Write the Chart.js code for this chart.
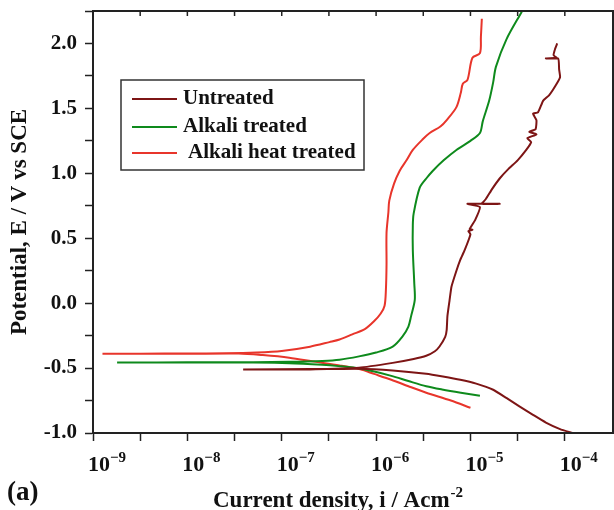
<!DOCTYPE html>
<html>
<head>
<meta charset="utf-8">
<script src="https://cdn.jsdelivr.net/npm/chart.js@4.4.0/dist/chart.umd.min.js"></script>
<style>
    html, body { margin: 0; padding: 0; background: #fff; }
</style>
</head>
<body>
<canvas id="myChart" width="614" height="510"></canvas>
<script>
// current density (A/cm2) and potential (V vs SCE)
// each path runs cathodic end -> corrosion potential -> anodic end
const untreatedI = [1.2e-4, 8.9e-5, 6.3e-5, 4.6e-5, 3.3e-5, 2.4e-5, 1.74e-5, 1.15e-5, 7.8e-6, 5.1e-6,
    3.4e-6, 1.5e-6, 6.6e-7, 2.0e-7, 3.9e-8,
    2.0e-7, 6.6e-7, 1.5e-6, 2.5e-6, 3.4e-6, 4.2e-6, 4.7e-6, 5.4e-6, 5.6e-6, 5.7e-6, 6.0e-6, 6.3e-6,
    7.1e-6, 7.8e-6, 8.7e-6, 1.0e-5, 9.5e-6, 1.05e-5, 9.8e-6, 1.12e-5, 1.26e-5, 9.3e-6, 2.04e-5, 1.32e-5,
    1.45e-5, 1.7e-5, 2.04e-5, 2.5e-5, 3.16e-5, 3.9e-5, 4.4e-5, 4.0e-5, 5.0e-5, 4.2e-5, 4.9e-5, 5.0e-5,
    4.6e-5, 5.2e-5, 5.9e-5, 6.8e-5, 7.9e-5, 8.9e-5, 8.7e-5, 8.5e-5, 6.3e-5, 8.3e-5, 7.6e-5, 7.9e-5, 8.3e-5];
const untreatedE = [-1.0, -0.97, -0.92, -0.86, -0.795, -0.73, -0.667, -0.62, -0.59, -0.565,
    -0.544, -0.518, -0.505, -0.51, -0.51,
    -0.508, -0.497, -0.46, -0.43, -0.405, -0.37, -0.334, -0.26, -0.205, -0.10, 0.02, 0.128,
    0.25, 0.333, 0.41, 0.53, 0.555, 0.565, 0.57, 0.64, 0.74, 0.765, 0.765, 0.765,
    0.80, 0.88, 0.96, 1.03, 1.10, 1.18, 1.24, 1.27, 1.30, 1.32, 1.34, 1.41,
    1.46, 1.47, 1.56, 1.60, 1.67, 1.74, 1.80, 1.885, 1.885, 1.885, 1.91, 1.96, 2.0];

const alkaliI = [1.26e-5, 7.9e-6, 5.0e-6, 3.4e-6, 2.2e-6, 1.45e-6, 9.3e-7, 6.2e-7, 4.0e-7, 2.7e-7,
    1.2e-7, 5.0e-8, 1.0e-8, 1.8e-9,
    1.0e-8, 5.0e-8, 1.2e-7, 2.7e-7, 4.1e-7, 6.6e-7, 1.0e-6, 1.5e-6, 1.9e-6, 2.2e-6, 2.35e-6, 2.57e-6,
    2.54e-6, 2.45e-6, 2.45e-6, 2.5e-6, 2.9e-6, 3.4e-6, 4.0e-6, 5.2e-6, 7.1e-6, 1.0e-5, 1.26e-5,
    1.35e-5, 1.58e-5, 1.74e-5, 1.86e-5, 2.4e-5, 3.5e-5];
const alkaliE = [-0.713, -0.69, -0.665, -0.64, -0.60, -0.56, -0.525, -0.50, -0.485, -0.475,
    -0.462, -0.458, -0.457, -0.457,
    -0.456, -0.455, -0.452, -0.445, -0.436, -0.41, -0.38, -0.334, -0.257, -0.18, -0.10, 0.025,
    0.15, 0.41, 0.60, 0.69, 0.89, 0.96, 1.02, 1.10, 1.18, 1.25, 1.31,
    1.40, 1.56, 1.70, 1.82, 2.03, 2.245];

const heatI = [1.0e-5, 6.2e-6, 3.4e-6, 2.2e-6, 1.45e-6, 9.5e-7, 6.8e-7, 4.1e-7, 2.2e-7, 1.2e-7,
    6.3e-8, 3.5e-8, 1.0e-8, 3.2e-9, 1.26e-9,
    3.2e-9, 1.0e-8, 2.5e-8, 5.4e-8, 1.0e-7, 2.0e-7, 3.2e-7, 4.1e-7, 5.6e-7, 7.6e-7, 9.5e-7, 1.12e-6,
    1.23e-6, 1.27e-6, 1.29e-6, 1.29e-6, 1.35e-6, 1.38e-6, 1.55e-6, 1.78e-6, 2.1e-6, 2.45e-6, 3.1e-6,
    3.7e-6, 4.8e-6, 5.6e-6, 7.1e-6, 7.9e-6, 8.3e-6, 9.3e-6, 1.05e-5, 1.26e-5, 1.29e-5, 1.32e-5];
const heatE = [-0.806, -0.75, -0.69, -0.64, -0.59, -0.545, -0.51, -0.48, -0.45, -0.42,
    -0.40, -0.388, -0.39, -0.39, -0.39,
    -0.389, -0.388, -0.386, -0.38, -0.368, -0.335, -0.30, -0.28, -0.24, -0.20, -0.14, -0.08,
    -0.02, 0.1, 0.3, 0.54, 0.70, 0.79, 0.92, 1.02, 1.10, 1.18, 1.26,
    1.31, 1.36, 1.41, 1.51, 1.62, 1.69, 1.72, 1.89, 1.925, 2.05, 2.19];

const seriesNames = ['Untreated', 'Alkali treated', 'Alkali heat treated'];
const seriesColors = ['#7d1515', '#0e8a1c', '#e8352b'];
const decadeTicks = [-9, -8.5, -8, -7.5, -7, -6.5, -6, -5.5, -5, -4.5, -4];

const serif = '"Liberation Serif", "Times New Roman", serif';

function toPoints(xs, ys) {
    return xs.map((x, i) => ({ x: x, y: ys[i] }));
}

function makeSet(k, xs, ys, tension) {
    return {
        label: seriesNames[k],
        data: toPoints(xs, ys),
        borderColor: seriesColors[k],
        backgroundColor: seriesColors[k],
        borderWidth: 2,
        showLine: true,
        pointRadius: 0,
        tension: tension
    };
}

function isDecade(value) {
    const p = Math.log10(value);
    return Math.abs(p - Math.round(p)) < 0.01;
}

// frame, top ticks, 10^n labels, x title, legend box and panel letter
const extras = {
    id: 'extras',
    afterDraw(chart) {
        const ctx = chart.ctx;
        const a = chart.chartArea;
        const xs = chart.scales.x;
        ctx.save();
        ctx.strokeStyle = '#222';
        ctx.lineWidth = 2;
        ctx.strokeRect(a.left, a.top, a.right - a.left, a.bottom - a.top);

        ctx.lineWidth = 1.5;
        xs.ticks.forEach(t => {
            const px = xs.getPixelForValue(t.value);
            ctx.beginPath();
            ctx.moveTo(px, a.top);
            ctx.lineTo(px, a.top + 5);
            ctx.stroke();
        });

        ctx.fillStyle = '#111';
        ctx.textBaseline = 'alphabetic';
        ctx.textAlign = 'left';
        xs.ticks.forEach(t => {
            if (!isDecade(t.value)) return;
            const px = xs.getPixelForValue(t.value);
            const e = Math.round(Math.log10(t.value));
            ctx.font = 'bold 22px ' + serif;
            ctx.fillText('10', px - 5, 471);
            const w = ctx.measureText('10').width;
            ctx.font = 'bold 15px ' + serif;
            ctx.fillText(String(e).replace('-', '\u2212'), px - 5 + w, 462);
        });

        ctx.font = 'bold 23px ' + serif;
        const title = 'Current density, i / Acm';
        ctx.fillText(title, 213, 507);
        const tw = ctx.measureText(title).width;
        ctx.font = 'bold 15px ' + serif;
        ctx.fillText('-2', 213 + tw + 1, 497);

        ctx.font = 'bold 27px ' + serif;
        ctx.fillText('(a)', 7, 500);

        ctx.lineWidth = 1.5;
        ctx.strokeStyle = '#333';
        ctx.strokeRect(121, 80, 243, 90);
        ctx.font = 'bold 21px ' + serif;
        ctx.textBaseline = 'middle';
        const rows = [99, 127, 153];
        seriesNames.forEach((name, k) => {
            ctx.strokeStyle = seriesColors[k];
            ctx.lineWidth = 2;
            ctx.beginPath();
            ctx.moveTo(132, rows[k]);
            ctx.lineTo(177, rows[k]);
            ctx.stroke();
            ctx.fillStyle = '#111';
            ctx.fillText(name, k === 2 ? 188 : 183, rows[k]);
        });
        ctx.restore();
    }
};

let ctx = document.getElementById('myChart').getContext('2d');

let myChart = new Chart(ctx, {
    type: 'scatter',
    data: {
        datasets: [
            makeSet(0, untreatedI, untreatedE, 0.15),
            makeSet(1, alkaliI, alkaliE, 0.3),
            makeSet(2, heatI, heatE, 0.3)
        ]
    },
    options: {
        responsive: false,
        devicePixelRatio: 1,
        animation: false,
        layout: { padding: { top: 11, right: 1, left: 0, bottom: 0 } },
        plugins: {
            legend: { display: false },
            tooltip: { enabled: false }
        },
        scales: {
            x: {
                type: 'logarithmic',
                min: 1e-9,
                max: 3.24e-4,
                afterFit: (scale) => {
                    scale.height = 77;
                    scale.paddingLeft = 0;
                    scale.paddingRight = 0;
                },
                afterBuildTicks: (scale) => {
                    scale.ticks = decadeTicks.map(p => ({ value: Math.pow(10, p) }));
                },
                border: { display: true, color: '#222', width: 2 },
                grid: { drawOnChartArea: false, drawTicks: true, tickLength: 8, tickColor: '#222', tickWidth: 1.5 },
                ticks: {
                    autoSkip: false,
                    maxRotation: 0,
                    callback: () => ''
                }
            },
            y: {
                min: -1.0,
                max: 2.25,
                afterFit: (scale) => {
                    scale.width = 93;
                    scale.paddingTop = 0;
                    scale.paddingBottom = 0;
                },
                border: { display: true, color: '#222', width: 2 },
                grid: { drawOnChartArea: false, drawTicks: true, tickLength: 8, tickColor: '#222', tickWidth: 1.5 },
                ticks: {
                    stepSize: 0.25,
                    padding: 8,
                    color: '#111',
                    font: { family: serif, size: 21, weight: 'bold' },
                    callback: (value) => {
                        if (Math.abs(value * 2 - Math.round(value * 2)) > 1e-6) return '';
                        return value.toFixed(1);
                    }
                },
                title: {
                    display: true,
                    text: 'Potential, E / V vs SCE',
                    color: '#111',
                    padding: { top: 9, bottom: 0 },
                    font: { family: serif, size: 23, weight: 'bold', lineHeight: 1.0 }
                }
            }
        }
    },
    plugins: [extras]
});
</script>
</body>
</html>
